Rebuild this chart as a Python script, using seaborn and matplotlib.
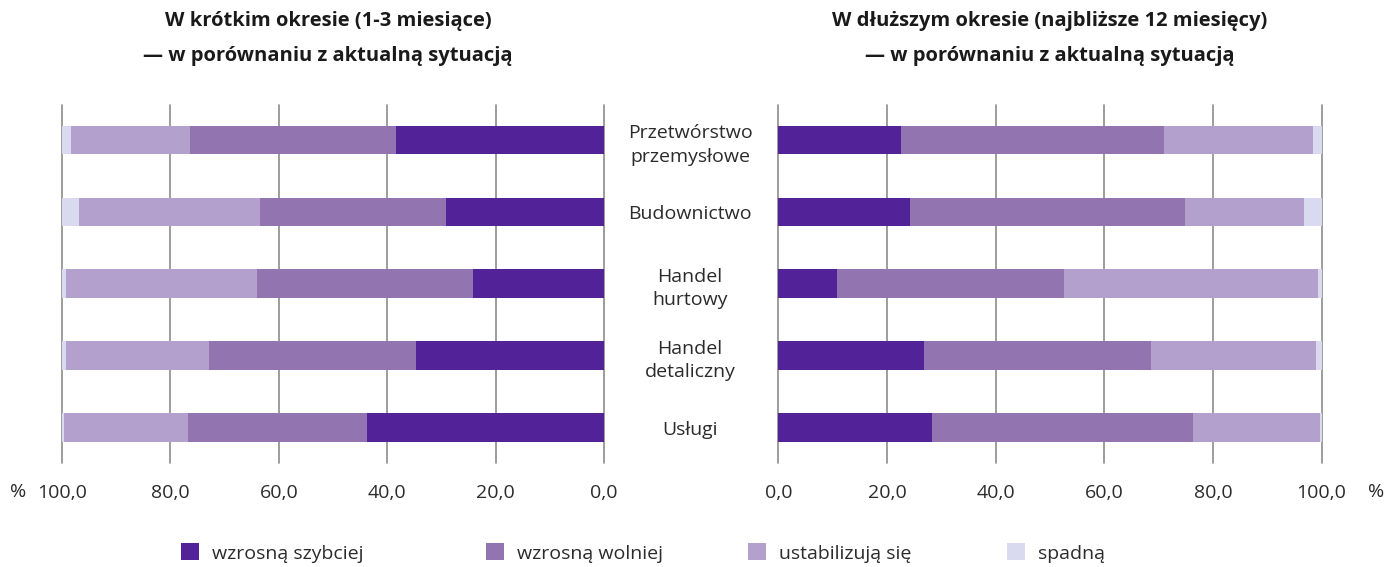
import matplotlib
matplotlib.use("Agg")
import matplotlib.pyplot as plt
import matplotlib.patches as mpatches
import seaborn as sns
import numpy as np

# ---- data ----
categories = ["Przetwórstwo\nprzemysłowe", "Budownictwo", "Handel\nhurtowy",
              "Handel\ndetaliczny", "Usługi"]
series_names = ["wzrosną szybciej", "wzrosną wolniej", "ustabilizują się", "spadną"]

short_szybciej = [38.3, 29.1, 24.2, 34.7, 43.7]
short_wolniej = [38.0, 34.3, 39.9, 38.2, 33.1]
short_stabil = [22.0, 33.5, 35.1, 26.3, 22.8]
short_spadna = [1.7, 3.1, 0.8, 0.8, 0.4]

long_szybciej = [22.6, 24.3, 10.8, 26.9, 28.2]
long_wolniej = [48.4, 50.6, 41.8, 41.7, 48.1]
long_stabil = [27.4, 21.8, 46.8, 30.4, 23.4]
long_spadna = [1.6, 3.3, 0.6, 1.0, 0.3]

tick_values = [0, 20, 40, 60, 80, 100]
title_left = ["W krótkim okresie (1-3 miesiące)", "— w porównaniu z aktualną sytuacją"]
title_right = ["W dłuższym okresie (najbliższe 12 miesięcy)", "— w porównaniu z aktualną sytuacją"]

colors = ["#522398", "#9275b0", "#b3a0cd", "#d9daef"]

# ---- style ----
sns.set_theme(style="white")
plt.rcParams["font.family"] = ["Open Sans", "DejaVu Sans"]
TXT = "#2b2b2b"
FS = 14

W, H = 1388, 567
fig = plt.figure(figsize=(W / 100, H / 100), dpi=100)

def fx(px):
    return px / W

def fy(py):
    return 1 - py / H

ax_bottom, ax_top = 463, 104.7
axL = fig.add_axes([fx(62), fy(ax_bottom), fx(604 - 62), (ax_bottom - ax_top) / H])
axR = fig.add_axes([fx(778.4), fy(ax_bottom), fx(1321.5 - 778.4), (ax_bottom - ax_top) / H])


def draw_panel(ax, series):
    cum = np.cumsum(np.array(series), axis=0)
    # draw from the full stack down so each segment shows its own colour
    for i in range(len(series) - 1, -1, -1):
        sns.barplot(x=cum[i], y=categories, orient="h", color=colors[i],
                    saturation=1, width=0.40, linewidth=0, ax=ax, zorder=2)
    ax.set_ylim(4.49, -0.49)
    ax.set_xticks(tick_values)
    ax.set_xticklabels([f"{v:.1f}".replace(".", ",") for v in tick_values],
                       fontsize=FS, color=TXT)
    ax.tick_params(axis="x", length=0, pad=15)
    ax.grid(axis="x", color="#8c8c8c", lw=1.2, zorder=0)
    ax.grid(axis="y", visible=False)
    ax.set_axisbelow(True)
    for s in ax.spines.values():
        s.set_visible(False)
    ax.set_xlabel("")
    ax.set_ylabel("")


draw_panel(axL, [short_szybciej, short_wolniej, short_stabil, short_spadna])
draw_panel(axR, [long_szybciej, long_wolniej, long_stabil, long_spadna])

axL.set_xlim(100, 0)
axR.set_xlim(0, 100)
for ax in (axL, axR):
    for gl in ax.get_xgridlines():
        gl.set_clip_on(False)

axL.set_yticks(range(len(categories)))
axL.set_yticklabels([])
axL.tick_params(axis="y", length=0)

axR.set_yticks(range(len(categories)))
axR.set_yticklabels(categories, fontsize=FS, color=TXT, ha="center",
                    linespacing=1.4)
axR.tick_params(axis="y", length=0, pad=(778.4 - 690) * 72 / 100)

# percent signs
fig.text(fx(18), fy(492), "%", fontsize=FS, color=TXT, ha="center", va="center")
fig.text(fx(1376), fy(492), "%", fontsize=FS, color=TXT, ha="center", va="center")

# titles
for cx, lines in ((328, title_left), (1050, title_right)):
    fig.text(fx(cx), fy(21), lines[0], fontsize=14.5, fontweight="bold",
             color="#1a1a1a", ha="center", va="center")
    fig.text(fx(cx), fy(56), lines[1], fontsize=14.5, fontweight="bold",
             color="#1a1a1a", ha="center", va="center")

# legend (one entry per position)
leg_x = [181, 486, 748, 1007]
for name, col, lx in zip(series_names, colors, leg_x):
    h = mpatches.Patch(facecolor=col, edgecolor="none", label=name)
    lg = fig.legend(handles=[h], loc="center left", bbox_to_anchor=(fx(lx), fy(553)),
                    frameon=False, fontsize=FS, handlelength=0.95, handleheight=0.95,
                    handletextpad=0.65, borderpad=0, borderaxespad=0)
    for t in lg.get_texts():
        t.set_color(TXT)

fig.savefig("out.png", dpi=100)
